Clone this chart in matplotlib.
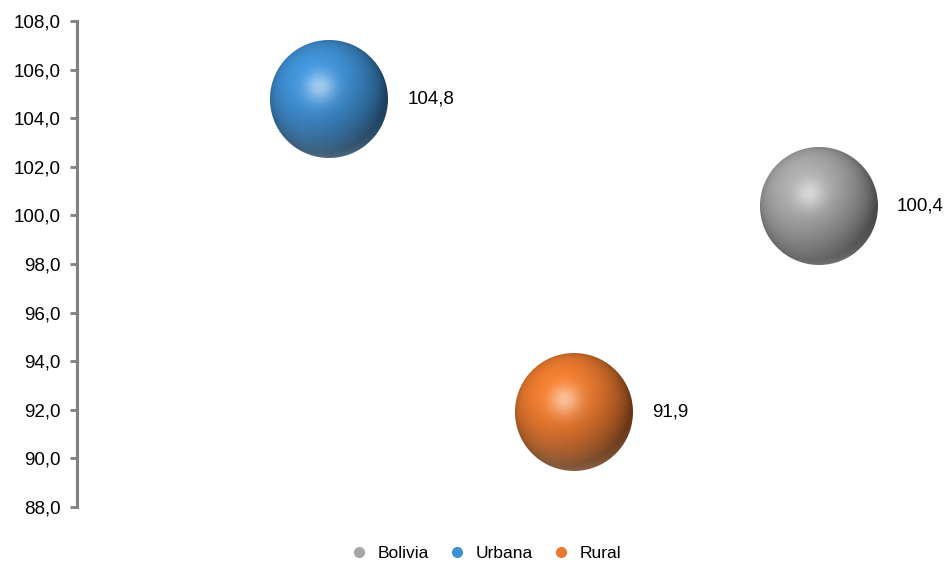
import numpy as np
import matplotlib
matplotlib.use("Agg")
import matplotlib.pyplot as plt
from matplotlib.colors import to_rgb
from matplotlib.offsetbox import OffsetImage, AnnotationBbox
from matplotlib.lines import Line2D

# ── Data ──────────────────────────────────────────────
series = ["Bolivia", "Urbana", "Rural"]
x_pos = [3, 1, 2]
values = [100.4, 104.8, 91.9]
colors = ["#a6a6a6", "#3f8fd2", "#e9792f"]
y_ticks = np.arange(88, 108.1, 2)

plt.rcParams["font.family"] = ["Liberation Sans Narrow", "Liberation Sans", "DejaVu Sans"]
DPI = 100


def sphere(color, size=120):
    """Shaded sphere as an RGBA array."""
    base = np.array(to_rgb(color))
    t = np.linspace(-1, 1, size)
    u, v = np.meshgrid(t, t)
    r2 = u**2 + v**2
    z = np.sqrt(np.clip(1 - r2, 0, 1))
    n = np.stack([u, -v, z], axis=-1)
    light = np.array([-0.3, 0.4, 0.85])
    light /= np.linalg.norm(light)
    diff = np.clip(n @ light, 0, 1)
    half = light + np.array([0, 0, 1.0])
    half /= np.linalg.norm(half)
    spec = np.clip(n @ half, 0, 1) ** 30
    # soft bounce light on the lower rim
    bounce = np.clip(v, 0, 1) ** 2 * np.clip(1 - z, 0, 1) ** 0.5 * 0.25
    shade = 0.45 + 0.62 * diff
    rgb = base[None, None, :] * shade[..., None]
    rgb += (spec * 0.5 + bounce)[..., None] * (1 - rgb)
    rgb = np.clip(rgb, 0, 1)
    r = np.sqrt(r2)
    alpha = np.clip((1 - r) * size / 2, 0, 1)
    return np.dstack([rgb, alpha])


fig = plt.figure(figsize=(9.44, 5.67), dpi=DPI)
ax = fig.add_axes([0.0816, 0.106, 0.918, 0.857])

for xs, val, col in zip(x_pos, values, colors):
    img = OffsetImage(sphere(col), zoom=72 / DPI)
    ab = AnnotationBbox(img, (xs, val), frameon=False, pad=0)
    ax.add_artist(ab)
    ax.annotate(f"{val:.1f}".replace(".", ","), (xs, val),
                xytext=(78, 0), textcoords="offset pixels",
                ha="left", va="center", fontsize=13.5)

ax.set_xlim(-0.03, 3.51)
ax.set_ylim(88, 108)
ax.set_yticks(y_ticks)
ax.set_yticklabels([f"{t:.1f}".replace(".", ",") for t in y_ticks], fontsize=13.5)
ax.tick_params(axis="y", color="#808080", width=2, length=5, pad=7)
ax.set_xticks([])
for s in ["top", "right", "bottom"]:
    ax.spines[s].set_visible(False)
ax.spines["left"].set_color("#808080")
ax.spines["left"].set_linewidth(2.2)

handles = [Line2D([], [], marker="o", ls="", markersize=7,
                  markerfacecolor=c, markeredgecolor=c, label=s)
           for s, c in zip(series, colors)]
fig.legend(handles=handles, loc="center", bbox_to_anchor=(0.51, 0.024),
           ncol=3, frameon=False, fontsize=12.5, handletextpad=0.1,
           columnspacing=0.6)

fig.savefig("out.png", dpi=DPI)
